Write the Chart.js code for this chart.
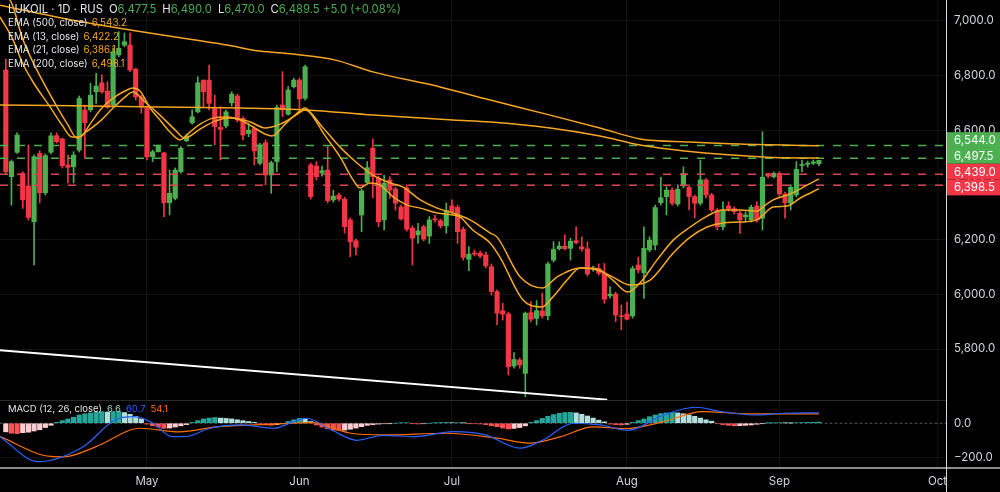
<!DOCTYPE html>
<html lang="en">
<head>
<meta charset="UTF-8">
<title>LUKOIL 1D</title>
<script src="https://cdn.jsdelivr.net/npm/chart.js"></script>
<style>
  body { margin: 0; background: #000; width: 1000px; height: 492px; overflow: hidden; position: relative;
         font-family: Inter, "Noto Sans", sans-serif; }
  #priceBox { position: absolute; left: 0; top: 0; width: 1000px; height: 400px; }
  #macdBox { position: absolute; left: 0; top: 400px; width: 1000px; height: 92px; }
  .sep1 { position: absolute; left: 0; top: 400px; width: 946px; height: 1px; background: #2a2a2a; }
  .sep2 { position: absolute; left: 0; top: 467px; width: 1000px; height: 2px; background: #8c8c8c; }
  .vline { position: absolute; left: 946px; top: 0; width: 1px; height: 492px; background: #d6d6d6; }
  #legend { position: absolute; left: 8px; top: 3px; font-size: 9.8px; line-height: 13.4px; color: #e4e6eb; }
  #legend .head { font-size: 11.3px; }
  #legend .g { color: #4caf50; }
  #legend .o { color: #f5a623; margin-left: 4px; }
  #legend .k { margin-left: 6px; }
  #macdLegend { position: absolute; left: 8px; top: 403px; font-size: 9.5px; color: #e4e6eb; }
  #macdLegend span { margin-left: 5px; }
</style>
</head>
<body>
<div id="priceBox"><canvas id="priceChart"></canvas></div>
<div id="macdBox"><canvas id="macdChart"></canvas></div>
<div class="sep1"></div>
<div class="sep2"></div>
<div class="vline"></div>
<div id="legend">
  <div class="head">LUKOIL · 1D · RUS<span class="k">O</span><span class="g">6,477.5</span><span class="k">H</span><span class="g">6,490.0</span><span class="k">L</span><span class="g">6,470.0</span><span class="k">C</span><span class="g">6,489.5</span> <span class="g">+5.0 (+0.08%)</span></div>
  <div>EMA (500, close)<span class="o">6,543.2</span></div>
  <div>EMA (13, close)<span class="o">6,422.2</span></div>
  <div>EMA (21, close)<span class="o">6,386.1</span></div>
  <div>EMA (200, close)<span class="o">6,498.1</span></div>
</div>
<div id="macdLegend">MACD (12, 26, close)<span style="color:#9fd8cf">6.6</span><span style="color:#2962ff">60.7</span><span style="color:#ff6d00">54.1</span></div>

<script>
// daily candles, one entry per bar (index 0 = first visible bar)
const open = [6820,6430,6519,6442,6396,6265,6515,6371,6519,6580,6568,6473,6466,6527,6674,6674,6740,6773,6743,6692,
  6875,6911,6911,6823,6721,6681,6503,6521,6517,6335,6351,6448,6561,6627,6667,6783,6783,6680,6610,6615,
  6700,6725,6643,6588,6607,6479,6554,6436,6485,6692,6658,6759,6783,6716,6473,6469,6443,6454,6345,6363,
  6348,6272,6196,6290,6409,6534,6424,6272,6418,6385,6319,6389,6242,6217,6247,6213,6276,6269,6250,6323,
  6318,6238,6128,6151,6150,6144,6101,6010,5940,5928,5738,5760,5711,5933,5912,5939,5922,6125,6167,6176,
  6168,6196,6174,6166,6093,6094,6077,5994,6001,5922,5928,5921,6107,6079,6162,6180,6335,6357,6381,6330,
  6396,6391,6357,6333,6418,6363,6308,6247,6323,6313,6296,6283,6272,6323,6278,6440,6430,6442,6367,6333,
  6363,6471,6475,6479,6477.5];
const high = [6860,6491,6590,6448,6546,6509,6525,6513,6590,6590,6571,6509,6521,6725,6692,6771,6808,6802,6777,6900,
  6960,6955,6955,6827,6728,6688,6527,6546,6520,6454,6462,6540,6586,6674,6795,6783,6838,6728,6686,6673,
  6740,6732,6649,6625,6613,6552,6564,6487,6692,6814,6759,6790,6790,6838,6480,6484,6469,6540,6381,6370,
  6355,6279,6202,6385,6485,6567,6432,6436,6430,6392,6326,6400,6250,6259,6253,6284,6290,6275,6333,6345,
  6326,6246,6174,6162,6158,6155,6111,6016,5967,5935,5787,5767,5935,5973,5977,6004,6118,6192,6192,6217,
  6205,6247,6210,6192,6103,6111,6113,6028,6008,5961,5972,6103,6136,6247,6210,6326,6428,6393,6389,6400,
  6466,6400,6363,6491,6424,6369,6315,6338,6338,6320,6304,6301,6326,6338,6594,6443,6447,6448,6374,6400,
  6485,6491,6487,6491,6490];
const low = [6440,6326,6515,6314,6271,6107,6334,6363,6513,6553,6462,6407,6407,6520,6497,6667,6698,6735,6680,6685,
  6868,6905,6814,6710,6663,6491,6485,6520,6284,6290,6345,6443,6557,6622,6663,6686,6674,6546,6491,6608,
  6688,6630,6564,6576,6473,6473,6400,6369,6448,6649,6655,6754,6674,6710,6348,6418,6432,6334,6337,6341,
  6224,6137,6144,6229,6403,6352,6247,6235,6351,6308,6272,6231,6107,6186,6195,6186,6264,6242,6223,6297,
  6186,6125,6086,6140,6133,6096,5997,5888,5906,5705,5730,5730,5626,5899,5888,5913,5906,6118,6162,6162,
  6125,6184,6158,6067,6085,6070,5967,5986,5900,5870,5906,5913,6078,5985,6155,6162,6326,6290,6326,6323,
  6389,6308,6279,6326,6352,6301,6235,6235,6304,6293,6223,6264,6264,6264,6235,6425,6425,6359,6278,6308,
  6356,6447,6465,6474,6470];
const close = [6448,6485,6582,6345,6281,6503,6371,6507,6579,6558,6470,6464,6509,6716,6627,6728,6761,6740,6683,6886,
  6899,6923,6820,6722,6685,6502,6521,6542,6334,6369,6454,6534,6579,6649,6773,6740,6698,6613,6603,6667,
  6732,6637,6582,6600,6524,6546,6436,6481,6683,6674,6747,6783,6714,6832,6357,6430,6452,6342,6359,6348,
  6247,6192,6172,6378,6463,6430,6265,6406,6381,6333,6275,6238,6205,6232,6202,6272,6272,6250,6306,6302,
  6229,6135,6147,6147,6140,6104,6010,5931,5928,5735,5762,5742,5931,5909,5940,5922,6111,6164,6176,6167,
  6194,6189,6166,6074,6096,6077,5982,6001,5924,5918,5909,6094,6089,6168,6198,6317,6353,6381,6333,6384,
  6442,6357,6333,6418,6363,6308,6247,6308,6313,6302,6272,6290,6318,6272,6428,6432,6442,6367,6335,6391,
  6457,6474,6479,6484,6489.5];

// EMA readings (bar index, price)
const ema500X = [-1.03,13.7,24.3,33.2,39.2,45,50.9,58.4,65,76.9,85.8,96.4,105.2,112.3,121.2,130,144];
const ema500Y = [7057,6995,6959,6930,6911,6889,6878,6856,6813,6758,6710,6655,6608,6568,6557,6549,6543.2];
const ema200X = [-1.03,27.3,41.5,53.3,65,79.2,85.8,96.4,105.2,112.3,121.2,130,135.9,144];
const ema200Y = [6692,6685,6681,6674,6655,6637,6630,6608,6579,6546,6522,6507,6500,6498.1];
const ema13X = [-1.03,1.28,2.87,4.82,7.83,9.95,11.7,13.14,14.91,16.7,18.99,21.1,22.5,23.77,25.54,27.31,29.08,30.85,
  32.6,34.4,36.7,39.2,41.5,43.8,45.9,47.15,49.45,51.2,53,54.8,56.2,59.2,61.5,62.7,64.5,66.3,68.6,71.1,73.4,76.4,
  79.2,80.4,82.7,85.8,87.5,91.6,94.97,96.7,99.4,101.7,104.7,107.5,110.2,112.3,115.3,118.2,121.2,124.2,127,130,
  133,134.5,135.9,138.9,141.9,144];
const ema13Y = [7014,6930,6849,6776,6685,6619,6575,6575,6622,6674,6717,6743,6754,6743,6681,6637,6593,6564,
  6593,6622,6644,6648,6637,6611,6586,6579,6622,6655,6681,6637,6590,6502,6418,6389,6407,6399,6356,6326,6315,6297,
  6290,6283,6235,6187,6136,5979,5954,5986,6052,6096,6093,6052,6008,6041,6125,6198,6246,6286,6308,6308,
  6304,6326,6345,6367,6399,6422.2];
const ema21X = [-1.03,0.74,3.05,5.5,9.07,11,12.6,14,16.7,18.99,21.1,22.5,24.65,27.3,29.97,31.7,34.4,37.05,39.7,
  43.3,45.9,48.6,51.2,53,56.2,59.2,62.2,65,68.05,70.35,73.4,76.4,79.2,82.2,85.8,87,91.1,95.1,97.6,101.7,104.7,
  107.5,110.6,114.1,118.2,121.2,124.2,127,130,133,135.9,138.4,140.7,144];
const ema21Y = [7094,7076,6930,6820,6685,6619,6571,6590,6633,6681,6721,6739,6703,6655,6601,6571,6604,6633,6644,
  6630,6608,6622,6652,6674,6608,6538,6480,6436,6407,6392,6345,6315,6297,6272,6224,6209,6063,6023,6063,6096,6089,
  6063,6034,6052,6151,6209,6246,6261,6264,6272,6319,6323,6352,6386.1];

// horizontal price levels and the drawn trend line
const upLevels = [6544.0, 6497.5];
const downLevels = [6439.0, 6398.5];
const trendX = [-1.03, 106.5];
const trendY = [5796, 5615];

// MACD panel
const hist = [-50,-58,-60,-55,-52,-45,-38,-25,-12,
  5,15,25,35,48,55,60,65,67,65,66,68,62,52,40,25,
  -5,-15,-22,-30,-28,-22,-15,-8,
  5,15,25,30,33,30,28,25,20,15,10,5,
  -5,-10,-12,-8,-3,
  10,20,28,25,10,
  -10,-22,-32,-40,-42,-40,-35,-28,
  -20,-12,-8,-5,-3,-2,0,2,3,-2,-4,-3,0,2,4,5,
  3,3,2,-2,-3,-4,
  -8,-14,-20,-28,-33,-30,-25,-15,
  5,15,28,40,50,58,62,63,60,52,42,30,18,8,
  -5,-8,-10,-6,
  5,15,25,38,48,56,60,62,60,55,48,40,30,20,12,
  -3,-8,-12,-15,-14,-12,-10,-6,
  -2,1,2,3,2,1,3,4,5,6,6.6];
const macdX = [-1.03,5.7,13.7,19.3,22.7,26.1,29.4,31.7,36.2,41.8,47.5,50.9,53.2,57.8,62.2,66.8,72.5,79.2,84.9,
  91.1,95,100.6,105.2,110.2,116.4,122.1,126.7,132.3,137.8,144];
const macdY = [-78,-223,-136,19,38,0,-78,-78,-29,-10,-29,8,29,-41,-99,-70,-78,-49,-68,
  -145,-99,0,-10,-41,46,93,68,48,58,60.7];
const signalX = [-1.03,8,10.3,16,23.8,30.7,37.4,44.1,50.9,54.2,61.1,66.8,78,87,92.7,98.3,104,109.7,116.4,123.3,132.3,144];
const signalY = [-78,-193,-195,-136,-29,-50,-21,-10,0,4,-58,-68,-58,-87,-116,-78,-21,-31,8,68,54,54.1];

// axes
const monthIdx = [25, 52, 79, 110, 137, 165];
const monthNames = ['May', 'Jun', 'Jul', 'Aug', 'Sep', 'Oct'];
const priceTicks = [5800, 6000, 6200, 6400, 6600, 6800, 7000];
const macdTicks = [-200, 0];

const X_MIN = -1.03, X_MAX = 166.5;
const UP = '#4caf50', DOWN = '#f23645', EMA = '#f5a623';
const FONT = 'Inter, "Noto Sans", sans-serif';
const GRID = 'rgba(255,255,255,0.07)';

const bars = close.map((c, i) => i);
const candleColor = bars.map(i => close[i] >= open[i] ? UP : DOWN);
const pts = (xs, ys) => xs.map((x, k) => ({x: x, y: ys[k]}));
const fmt = v => v.toLocaleString('en-US', {minimumFractionDigits: 1, maximumFractionDigits: 1});

function line(data, color, width, extra) {
  return Object.assign({
    type: 'line', data: data, borderColor: color, borderWidth: width,
    pointRadius: 0, fill: false, order: 0, cubicInterpolationMode: 'monotone'
  }, extra || {});
}
function level(v, color) {
  return line([{x: X_MIN, y: v}, {x: X_MAX, y: v}], color, 1.5, {borderDash: [8, 9]});
}

// price badges on the right axis, pushed apart like the original
const levelBadges = {
  id: 'levelBadges',
  afterDraw(chart) {
    const ctx = chart.ctx, y = chart.scales.y;
    const all = upLevels.map(v => [v, UP]).concat(downLevels.map(v => [v, DOWN]));
    const h = 15.8;
    const mid = all.reduce((s, a) => s + y.getPixelForValue(a[0]), 0) / all.length;
    let top = mid - h * all.length / 2 - 2;
    ctx.save();
    ctx.font = '11.5px ' + FONT;
    ctx.textBaseline = 'middle';
    all.forEach((a, k) => {
      const t = top + k * h;
      ctx.fillStyle = a[1];
      ctx.fillRect(y.left, t, 54, h);
      ctx.fillStyle = '#ffffff';
      ctx.fillText(fmt(a[0]), y.left + 8, t + h / 2 + 0.5);
    });
    ctx.restore();
  }
};

function xAxis(showLabels) {
  return {
    type: 'linear', min: X_MIN, max: X_MAX, offset: false,
    grid: {color: GRID, offset: false, drawTicks: false},
    border: {display: false},
    ticks: {display: showLabels, autoSkip: false, maxRotation: 0, color: '#d1d4dc', padding: 7,
            font: {family: FONT, size: 11.5},
            callback: v => monthNames[monthIdx.indexOf(v)]},
    afterBuildTicks: s => { s.ticks = monthIdx.map(v => ({value: v})); },
    afterFit: s => { s.height = showLabels ? 24 : 0; s.paddingLeft = 0; s.paddingRight = 0; }
  };
}
function yAxis(min, max, ticks, label) {
  return {
    position: 'right', min: min, max: max,
    grid: {color: GRID, drawTicks: false},
    border: {display: false},
    ticks: {color: '#d1d4dc', padding: 8, font: {family: FONT, size: 11.5}, callback: label},
    afterBuildTicks: s => { s.ticks = ticks.map(v => ({value: v})); },
    afterFit: s => { s.width = 54; s.paddingTop = 0; s.paddingBottom = 0; }
  };
}

new Chart(document.getElementById('priceChart'), {
  type: 'bar',
  data: {
    datasets: [
      line(pts(ema500X, ema500Y), EMA, 1.5),
      line(pts(ema200X, ema200Y), EMA, 1.5),
      line(pts(ema13X, ema13Y), EMA, 1.5),
      line(pts(ema21X, ema21Y), EMA, 1.5),
      level(upLevels[0], UP), level(upLevels[1], UP),
      level(downLevels[0], '#e0404f'), level(downLevels[1], '#e0404f'),
      line(pts(trendX, trendY), '#ffffff', 2, {cubicInterpolationMode: 'default'}),
      {label: 'body', data: bars.map(i => ({x: i, y: [open[i], close[i]]})), backgroundColor: candleColor,
       barThickness: 4.5, minBarLength: 1, grouped: false, order: 1},
      {label: 'wick', data: bars.map(i => ({x: i, y: [low[i], high[i]]})), backgroundColor: candleColor,
       barThickness: 1, grouped: false, order: 2}
    ]
  },
  options: {
    animation: false, responsive: true, maintainAspectRatio: false,
    layout: {padding: 0},
    plugins: {legend: {display: false}, tooltip: {enabled: false}},
    scales: {
      x: xAxis(false),
      y: yAxis(5613.7, 7075.7, priceTicks, v => fmt(v))
    }
  },
  plugins: [levelBadges]
});

const histColor = hist.map((h, i) => {
  const prev = i > 0 ? hist[i - 1] : h;
  if (h >= 0) return h >= prev ? '#26a69a' : '#b2dfdb';
  return h < prev ? '#ff5252' : '#ffcdd2';
});

new Chart(document.getElementById('macdChart'), {
  type: 'bar',
  data: {
    datasets: [
      line(pts(macdX, macdY), '#2962ff', 1.2),
      line(pts(signalX, signalY), '#ff6d00', 1.2),
      line([{x: X_MIN, y: 0}, {x: X_MAX, y: 0}], '#5a5a5a', 1, {borderDash: [2, 3], order: 5}),
      {label: 'hist', data: bars.map(i => ({x: i, y: hist[i]})), backgroundColor: histColor,
       barThickness: 4.5, grouped: false, order: 2}
    ]
  },
  options: {
    animation: false, responsive: true, maintainAspectRatio: false,
    layout: {padding: 0},
    plugins: {legend: {display: false}, tooltip: {enabled: false}},
    scales: {
      x: xAxis(true),
      y: yAxis(-260, 135, macdTicks, v => v < 0 ? '\u2212' + fmt(-v) : fmt(v))
    }
  }
});
</script>
</body>
</html>
